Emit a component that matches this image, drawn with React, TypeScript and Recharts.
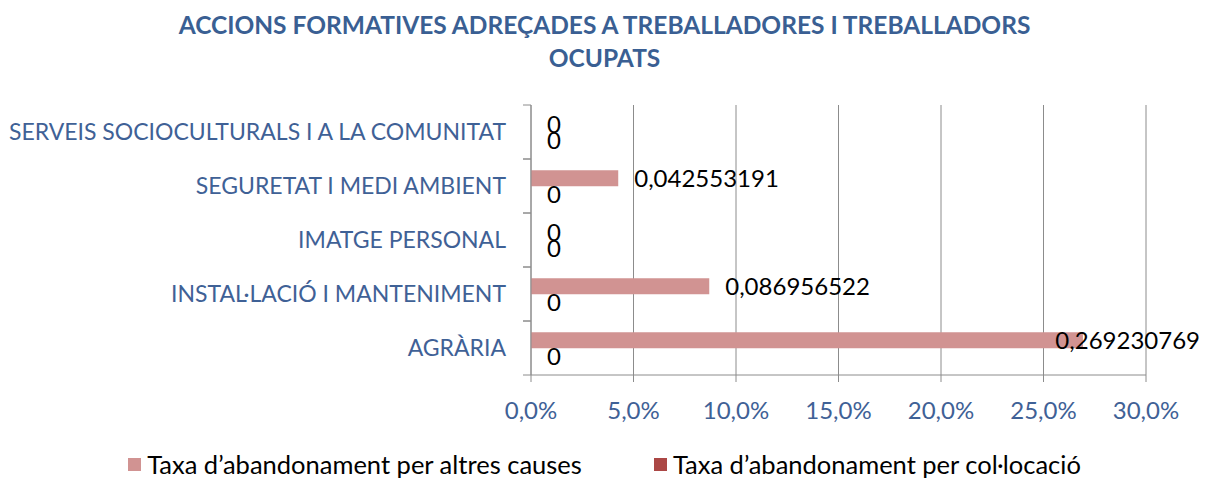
import React from 'react';
import { BarChart, Bar, XAxis, YAxis, CartesianGrid, Legend, LabelList } from 'recharts';

const categories = [
  'AGRÀRIA',
  'INSTAL·LACIÓ I MANTENIMENT',
  'IMATGE PERSONAL',
  'SEGURETAT I MEDI AMBIENT',
  'SERVEIS SOCIOCULTURALS I A LA COMUNITAT',
];
const altresCauses = [0.269230769, 0.086956522, 0, 0.042553191, 0];
const collocacio = [0, 0, 0, 0, 0];
const xTicks = [0, 0.05, 0.1, 0.15, 0.2, 0.25, 0.3];
const seriesNames = ['Taxa d’abandonament per altres causes', 'Taxa d’abandonament per col·locació'];
const titleLines = ['ACCIONS FORMATIVES ADREÇADES A TREBALLADORES I TREBALLADORS', 'OCUPATS'];

const COLORS = ['#D19392', '#AB4745'];
const FONT = 'Lato, "Open Sans", sans-serif';
const AXIS_TEXT = '#3F6196';
const GRID = '#8C8C8C';

const data = categories.map((name, i) => ({ name, altres: altresCauses[i], colloc: collocacio[i] }));

const fmtPct = (v: number) => (v * 100).toFixed(1).replace('.', ',') + '%';

const LABEL_SIZE = 24;
const renderValueLabel = (props: any) => {
  const { x, y, width, height, value } = props;
  const text = String(value).replace('.', ',');
  const start = Number(x) + Math.max(0, Number(width)) + 16;
  const est = text.length * 0.53 * LABEL_SIZE;
  const limit = 1200;
  const fits = start + est <= limit;
  return (
    <text
      x={fits ? start : limit}
      y={Number(y) + Number(height) / 2}
      dy="0.36em"
      textAnchor={fits ? 'start' : 'end'}
      fill="#000"
      fontFamily={FONT}
      fontSize={LABEL_SIZE}
    >
      {text}
    </text>
  );
};

const CAT_TICK_SIZE = 8;
const CAT_TICK_MARGIN = 17;
const CategoryTick = (props: any) => {
  const { x, y, payload } = props;
  const axisX = Number(x) + CAT_TICK_MARGIN + CAT_TICK_SIZE;
  const half = Number(payload?.offset) || 0;
  return (
    <g>
      <line x1={axisX - CAT_TICK_SIZE} x2={axisX} y1={y - half} y2={y - half} stroke={GRID} />
      <line x1={axisX - CAT_TICK_SIZE} x2={axisX} y1={y + half} y2={y + half} stroke={GRID} />
      <text
        x={x}
        y={y}
        dy="0.36em"
        textAnchor="end"
        fill={AXIS_TEXT}
        fontSize={23}
        fontFamily={FONT}
      >
        {payload.value}
      </text>
    </g>
  );
};

const renderLegend = () => (
  <div
    style={{
      display: 'flex',
      justifyContent: 'center',
      gap: 72,
      fontFamily: FONT,
      fontSize: 25.5,
      lineHeight: '28px',
      color: '#000',
      whiteSpace: 'nowrap',
    }}
  >
    {seriesNames.map((n, i) => (
      <div key={n} style={{ display: 'flex', alignItems: 'center' }}>
        <span style={{ display: 'inline-block', width: 13, height: 13, background: COLORS[i], marginRight: 6 }} />
        <span>{n}</span>
      </div>
    ))}
  </div>
);

export default function App() {
  return (
    <div style={{ position: 'absolute', left: 0, top: 0, width: 1209, height: 478, background: '#fff' }}>
      <div
        style={{
          position: 'absolute',
          left: 0,
          top: 8,
          width: 1209,
          textAlign: 'center',
          fontFamily: FONT,
          fontWeight: 700,
          fontSize: 24.5,
          lineHeight: '33px',
          color: '#3A5F93',
        }}
      >
        {titleLines[0]}
        <br />
        {titleLines[1]}
      </div>
      <BarChart
        width={1209}
        height={478}
        data={data}
        layout="vertical"
        margin={{ top: 105, right: 63, bottom: 53, left: 0 }}
        barCategoryGap="21%"
        barGap={0}
        style={{ position: 'absolute', left: 0, top: 0 }}
      >
        <CartesianGrid horizontal={false} stroke={GRID} />
        <XAxis
          type="number"
          domain={[0, 0.3]}
          ticks={xTicks}
          tickFormatter={fmtPct}
          height={50}
          axisLine={{ stroke: GRID }}
          tickLine={{ stroke: GRID }}
          tickSize={7}
          tickMargin={20}
          tick={{ fill: AXIS_TEXT, fontSize: 24, fontFamily: FONT }}
          interval={0}
        />
        <YAxis
          type="category"
          dataKey="name"
          reversed
          width={531}
          axisLine={{ stroke: GRID }}
          tickLine={false}
          tickSize={CAT_TICK_SIZE}
          tickMargin={CAT_TICK_MARGIN}
          tick={<CategoryTick />}
          interval={0}
        />
        <Bar
          dataKey="altres"
          name={seriesNames[0]}
          fill={COLORS[0]}
          minPointSize={0.01}
          isAnimationActive={false}
        >
          <LabelList dataKey="altres" content={renderValueLabel} />
        </Bar>
        <Bar
          dataKey="colloc"
          name={seriesNames[1]}
          fill={COLORS[1]}
          minPointSize={0.01}
          isAnimationActive={false}
        >
          <LabelList dataKey="colloc" content={renderValueLabel} />
        </Bar>
        <Legend
          layout="horizontal"
          verticalAlign="middle"
          align="center"
          content={renderLegend}
          wrapperStyle={{ top: 450, left: 0, width: 1209 }}
        />
      </BarChart>
    </div>
  );
}
